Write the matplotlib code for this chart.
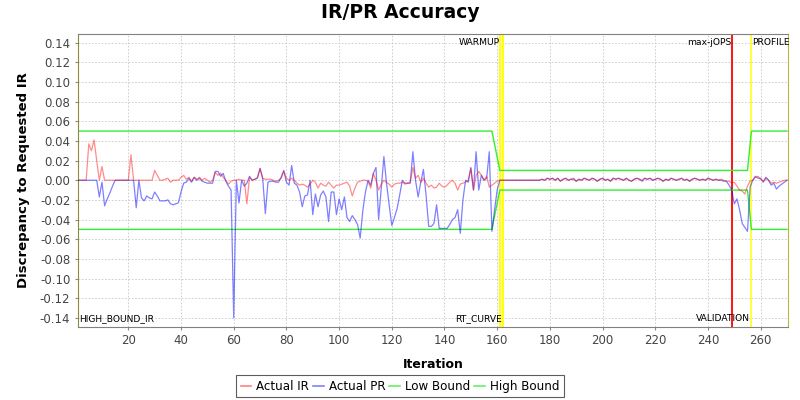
import matplotlib
matplotlib.use("Agg")
import matplotlib.pyplot as plt
from matplotlib.lines import Line2D
from matplotlib.ticker import FormatStrFormatter, MultipleLocator

# -------------------------------
# Data
# -------------------------------
iterations = list(range(1, 271))

actual_ir = [
    0, 0, 0, 0, 0.037, 0.030, 0.041, 0.020, 0.000, 0.014,
    0, 0, 0, 0, 0, 0, 0, 0, 0, 0,
    0.026, 0, 0, 0, 0, 0, 0, 0, 0, 0.010,
    0.005, 0, 0, 0.001, 0.002, -0.002, 0, 0, 0, 0.003,
    0.005, 0.001, 0.003, -0.001, 0.003, 0.001, 0.003, 0.000, 0.002, 0.000,
    -0.002, 0.000, 0.008, 0.005, 0.007, 0.003, 0.000, -0.004, -0.001, 0.000,
    0.000, 0.001, 0.000, 0.000, -0.024, 0.003, 0.000, 0.001, 0.003, 0.012,
    0.002, 0.001, 0.001, 0.001, 0.000, -0.001, 0.000, 0.002, 0.009, 0.002,
    0.000, 0.002, 0.000, -0.003, -0.005, -0.004, -0.005, -0.007, -0.004, 0.000,
    -0.002, -0.008, -0.003, -0.005, -0.006, -0.002, -0.005, -0.008, -0.005, -0.005,
    -0.004, -0.003, -0.002, -0.006, -0.016, -0.008, -0.002, -0.001, 0.000, 0.000,
    -0.001, -0.008, 0.007, 0.000, -0.010, -0.004, 0.000, -0.002, -0.004, -0.007,
    -0.004, -0.003, -0.003, -0.002, -0.004, -0.003, -0.002, 0.013, 0.002, 0.005,
    -0.002, 0.002, -0.003, -0.007, -0.005, -0.008, -0.007, -0.003, -0.006, -0.007,
    -0.005, -0.002, 0.000, -0.003, -0.010, -0.004, -0.003, -0.002, 0.000, 0.012,
    -0.010, 0.005, 0.009, 0.005, 0.000, 0.004, -0.007, -0.005, -0.003, -0.001,
    0, 0, 0, 0, 0, 0, 0, 0, 0, 0,
    0, 0, 0, 0, 0, 0, 0.001, 0.000, 0.002, 0.001,
    0.002, 0.000, 0.002, -0.001, 0.001, 0.002, 0.000, 0.001, 0.002, -0.001,
    0.001, 0.000, 0.002, 0.001, 0.000, 0.002, 0.001, -0.001, 0.001, 0.002,
    0.000, 0.001, -0.001, 0.002, 0.001, 0.002, 0.001, 0.000, 0.002, 0.000,
    -0.001, 0.001, 0.002, 0.001, 0.000, 0.002, 0.001, 0.002, 0.000, 0.001,
    0.002, 0.001, -0.001, 0.001, 0.000, 0.002, 0.001, 0.000, 0.001, 0.002,
    0.000, 0.001, -0.001, 0.001, 0.002, 0.001, 0.000, 0.001, 0.000, 0.002,
    0.001, 0.000, 0.001, 0.000, 0.001, 0.000, -0.001, -0.001, -0.003, -0.002,
    -0.006, -0.010, -0.011, -0.014, -0.006, -0.001, 0.000, 0.003, 0.004, 0.001,
    -0.001, 0.002, 0.000, -0.003, -0.002, -0.003, -0.002, -0.001, 0.000, 0.000,
]

actual_pr = [
    0, 0, 0, 0, 0, 0, 0, 0, -0.017, -0.002,
    -0.026, -0.019, -0.013, -0.006, 0, 0, 0, 0, 0, 0,
    0, 0, -0.028, 0, -0.018, -0.021, -0.016, -0.018, -0.019, -0.012,
    -0.016, -0.021, -0.021, -0.021, -0.020, -0.024, -0.025, -0.024, -0.023, -0.012,
    -0.003, -0.002, 0.002, -0.002, 0.003, 0.000, 0.002, -0.001, -0.002, -0.003,
    -0.003, -0.003, 0.009, 0.009, 0.004, 0.007, -0.001, -0.006, -0.010, -0.140,
    0.000, -0.023, 0.000, -0.006, -0.003, 0.004, 0.000, 0.001, 0.002, 0.012,
    0.002, -0.034, -0.002, -0.001, -0.001, -0.002, -0.002, 0.003, 0.010, -0.002,
    -0.005, 0.015, -0.003, -0.005, -0.012, -0.027, -0.016, -0.015, 0.000, -0.035,
    -0.014, -0.027, -0.015, -0.011, -0.017, -0.042, -0.012, -0.012, -0.035, -0.019,
    -0.030, -0.017, -0.038, -0.042, -0.036, -0.040, -0.045, -0.059, -0.031, -0.012,
    0.000, -0.005, 0.007, 0.013, -0.040, -0.008, 0.024, -0.003, -0.025, -0.046,
    -0.038, -0.029, -0.015, 0.000, -0.003, -0.003, -0.003, 0.029, 0.000, -0.017,
    -0.002, 0.011, -0.015, -0.047, -0.047, -0.044, -0.025, -0.049, -0.049, -0.049,
    -0.049, -0.045, -0.040, -0.038, -0.030, -0.054, -0.020, 0.000, -0.002, 0.013,
    -0.010, 0.029, -0.010, 0.005, 0.000, 0.002, 0.029, -0.052, -0.030, -0.010,
    0, 0, 0, 0, 0, 0, 0, 0, 0, 0,
    0, 0, 0, 0, 0, 0, 0.001, 0.000, 0.002, 0.001,
    0.002, 0.000, 0.002, -0.001, 0.001, 0.002, 0.000, 0.001, 0.001, -0.001,
    0.001, 0.000, 0.002, 0.001, 0.000, 0.002, 0.001, -0.001, 0.001, 0.002,
    0.000, 0.001, -0.001, 0.002, 0.001, 0.002, 0.001, 0.000, 0.002, 0.000,
    -0.001, 0.001, 0.002, 0.001, -0.001, 0.002, 0.001, 0.002, 0.000, 0.001,
    0.002, 0.001, -0.001, 0.001, 0.000, 0.002, 0.001, 0.000, 0.001, 0.002,
    0.000, 0.001, -0.001, 0.001, 0.002, 0.001, 0.000, 0.001, 0.000, 0.002,
    0.001, 0.000, 0.001, 0.000, 0.000, -0.001, -0.001, -0.005, -0.010, -0.024,
    -0.019, -0.030, -0.044, -0.048, -0.052, -0.007, 0.000, 0.004, 0.002, 0.002,
    -0.002, 0.003, 0.000, -0.005, -0.003, -0.009, -0.006, -0.004, -0.002, 0.000,
]

bound_x = [1, 158, 161, 255, 256.5, 270]
low_bound = [-0.05, -0.05, -0.01, -0.01, -0.05, -0.05]
high_bound = [0.05, 0.05, 0.01, 0.01, 0.05, 0.05]

# phase markers: (position, label, colour, top/bottom, alignment)
markers = [
    (161.1, "WARMUP", "#ffff00", "top", "right"),
    (162.1, "RT_CURVE", "#ffff00", "bottom", "right"),
    (249.2, "max-jOPS", "#ff0000", "top", "right"),
    (256.2, "VALIDATION", "#ffff40", "bottom", "right"),
    (256.2, "PROFILE", "#ffff40", "top", "left"),
    (1.0, "HIGH_BOUND_IR", "#cccc00", "bottom", "left"),
]

# -------------------------------
# Plot
# -------------------------------
plt.rcParams["font.family"] = ["DejaVu Sans"]

fig = plt.figure(figsize=(8, 4), dpi=100)
ax = fig.add_axes([0.0975, 0.1833, 0.8879, 0.731])

ax.set_xlim(0.9, 270.5)
ax.set_ylim(-0.149, 0.1485)

ax.grid(True, color="#c8c8c8", linestyle=(0, (2, 2)), linewidth=0.6)
ax.set_axisbelow(True)

ax.axvspan(161.1, 162.1, color="#ffffa0", lw=0, zorder=1)
for xpos, label, col, where, ha in markers:
    ax.axvline(xpos, color=col, lw=1.3, zorder=1.5)
    ypos = 0.1403 if where == "top" else -0.1403
    ax.text(xpos + (0.4 if ha == "left" else -0.2), ypos, label,
            ha=ha, va="center", fontsize=6.6, color="black", zorder=5)

ax.plot(bound_x, low_bound, color="#33ee33", lw=1.0, zorder=2)
ax.plot(bound_x, high_bound, color="#33ee33", lw=1.0, zorder=2)
ax.plot(iterations, actual_pr, color="#0000ff", alpha=0.5, lw=0.9, zorder=3)
ax.plot(iterations, actual_ir, color="#ff0000", alpha=0.45, lw=0.9, zorder=4)

ax.xaxis.set_major_locator(MultipleLocator(20))
ax.yaxis.set_major_locator(MultipleLocator(0.02))
ax.yaxis.set_major_formatter(FormatStrFormatter("%.2f"))
ax.tick_params(labelsize=8.5, labelcolor="#444444", color="#888888",
               length=2, width=0.8)

for side in ["top", "bottom"]:
    ax.spines[side].set_color("#808080")
ax.spines["left"].set_color("#8c8c3c")
ax.spines["right"].set_color("#b8b840")

fig.text(0.5, 0.97, "IR/PR Accuracy", ha="center", va="center",
         fontsize=13.5, fontweight="bold")
ax.set_xlabel("Iteration", fontsize=9, fontweight="bold", labelpad=8)
ax.set_ylabel("Discrepancy to Requested IR", fontsize=9.5, fontweight="bold", labelpad=7)

handles = [
    Line2D([], [], color="#ff8080", lw=1.2),
    Line2D([], [], color="#8080ff", lw=1.2),
    Line2D([], [], color="#66f066", lw=1.2),
    Line2D([], [], color="#66f066", lw=1.2),
]
leg = fig.legend(handles, ["Actual IR", "Actual PR", "Low Bound", "High Bound"],
                 loc="center", bbox_to_anchor=(0.5, 0.0345), ncol=4,
                 fontsize=8.6, frameon=True, fancybox=False,
                 handlelength=0.9, handletextpad=0.4, columnspacing=0.35,
                 borderpad=0.4, borderaxespad=0)
leg.get_frame().set_edgecolor("#333333")
leg.get_frame().set_linewidth(0.8)

fig.savefig("out.png", dpi=100)
